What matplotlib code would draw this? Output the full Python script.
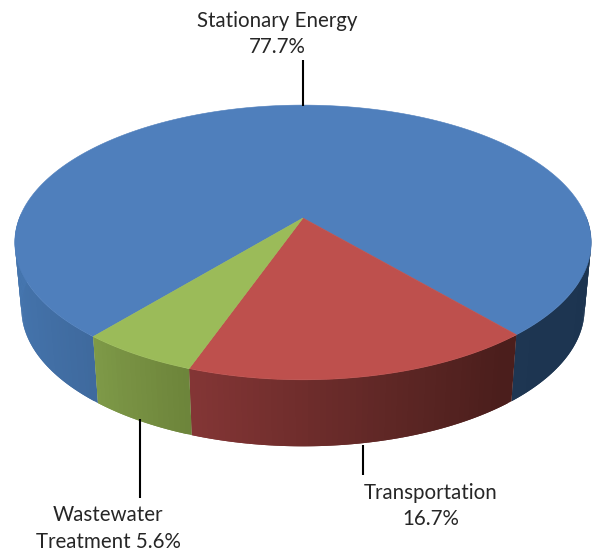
import numpy as np
import matplotlib
matplotlib.use("Agg")
import matplotlib.pyplot as plt
from matplotlib.collections import PolyCollection
from matplotlib.colors import to_rgb

categories = ["Stationary Energy", "Transportation", "Wastewater Treatment"]
values = [77.7, 16.7, 5.6]
label_texts = ["Stationary Energy\n77.7%", "Transportation\n16.7%", "Wastewater\nTreatment 5.6%"]
top_colors = ["#4F7FBC", "#BE504D", "#9BBB59"]

START = -49.4          # degrees: right end of the Transportation slice
CX, CY = 303.0, 218.0  # projected pie centre, pixels
A, B, K = 133.0, 283.6, 0.178
DEPTH, SHRINK = 66.5, 0.977

fig = plt.figure(figsize=(6.0, 5.53), dpi=100)
ax = fig.add_axes([0, 0, 1, 1])
ax.set_xlim(0, 600)
ax.set_ylim(553, 0)
ax.axis("off")


def project(theta_deg, bottom=False):
    t = np.radians(theta_deg)
    u, v = np.cos(t), np.sin(t)
    x = B * u / (1 + K * v)
    y = -A * v / (1 + K * v)
    if bottom:
        return CX + SHRINK * x, CY + y + DEPTH
    return CX + x, CY + y


# slice angles (clockwise from START)
spans = np.array(values) / sum(values) * 360.0
red_a = (START, START - spans[1])
green_a = (red_a[1], red_a[1] - spans[2])
blue_a = (green_a[1], green_a[1] - spans[0])
angles = [blue_a, red_a, green_a]

# rim colour ramps by horizontal position on the pie
ramps = [
    [(-1.0, "#4575AE"), (-0.65, "#3F6A9E"), (0.6, "#1E3652"), (1.0, "#1C3450")],
    [(-0.35, "#853636"), (0.0, "#6F2D2C"), (0.3, "#5C2624"), (0.6, "#4B1E1C"), (0.8, "#4B1E1C")],
    [(-0.65, "#7F9A48"), (-0.35, "#6D853B")],
]


def ramp(stops, x):
    xs = [s[0] for s in stops]
    cs = np.array([to_rgb(s[1]) for s in stops])
    return [np.interp(x, xs, cs[:, i]) for i in range(3)]


for (a0, a1), stops in zip(angles, ramps):
    th = np.linspace(a0, a1, max(int(abs(a1 - a0)), 8))
    polys, cols = [], []
    for i, (t0, t1) in enumerate(zip(th[:-1], th[1:])):
        mid = 0.5 * (t0 + t1)
        if np.sin(np.radians(mid)) > 0.02:
            continue
        # overlap into the next strip so no seams show; later strips paint over
        t1x = th[min(i + 2, len(th) - 1)]
        seg = np.linspace(t0, t1x, 5)
        xt, yt = project(seg)
        xb, yb = project(seg[::-1], True)
        polys.append(np.c_[np.r_[xt, xb], np.r_[yt, yb]])
        cols.append(ramp(stops, np.cos(np.radians(mid))))
    ax.add_collection(PolyCollection(polys, facecolors=cols, edgecolors="none", zorder=2))

for (a0, a1), col in zip(angles, top_colors):
    th = np.linspace(a0, a1, 400)
    xs, ys = project(th)
    ax.fill(np.r_[CX, xs], np.r_[CY, ys], facecolor=col, edgecolor=col, linewidth=0.4, zorder=3)

# leader lines
for x, y0, y1 in [(303, 60, 106), (363, 445, 475), (140, 419, 498)]:
    ax.plot([x, x], [y0, y1], color="black", lw=1.5, solid_capstyle="butt", zorder=4)

font = dict(family=["Lato", "DejaVu Sans"], fontsize=14.8, color="#262626",
            ha="center", va="center", linespacing=1.42)
ax.text(277, 34, label_texts[0], **font)
ax.text(431, 506, label_texts[1], **font)
ax.text(108, 528.5, label_texts[2], **font)

fig.savefig("out.png", dpi=100, facecolor="white")
